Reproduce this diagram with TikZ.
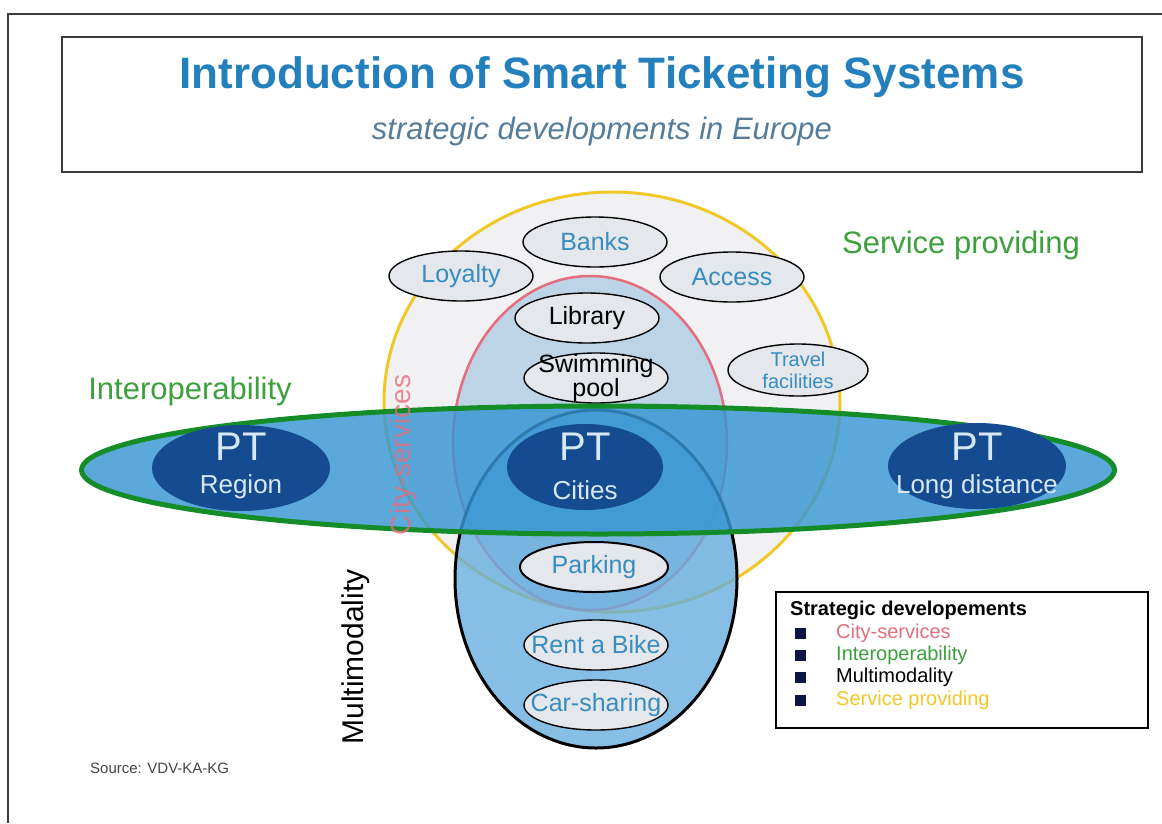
\documentclass[tikz,border=0pt]{standalone}
\usepackage{fontspec}
\setmainfont{Liberation Sans}
\usetikzlibrary{shapes.geometric}
\definecolor{titleblue}{RGB}{35,128,189}
\definecolor{subgray}{RGB}{85,125,155}
\definecolor{framegray}{RGB}{60,60,60}
\definecolor{svcyellow}{RGB}{240,200,40}
\definecolor{svcfill}{RGB}{241,241,243}
\definecolor{cityred}{RGB}{228,110,125}
\definecolor{cityfill}{RGB}{188,212,230}
\definecolor{multifill}{RGB}{100,172,222}
\definecolor{interopgreen}{RGB}{20,140,40}
\definecolor{interopfill}{RGB}{55,150,212}
\definecolor{labelgreen}{RGB}{60,160,60}
\definecolor{ptdark}{RGB}{20,75,145}
\definecolor{ptlight}{RGB}{215,232,245}
\definecolor{smallfill}{RGB}{228,231,235}
\definecolor{lblue}{RGB}{55,140,192}
\definecolor{legnavy}{RGB}{15,20,70}
\definecolor{srcgray}{RGB}{70,70,70}
\newcommand\fsz[1]{\fontsize{#1}{#1}\selectfont}
\begin{document}
\begin{tikzpicture}[x=1pt,y=-1pt,
  smallell/.style={ellipse, draw=black, line width=1.4pt, fill=smallfill, inner sep=0pt, minimum width=144pt, minimum height=50pt},
  smalltxt/.style={font=\fsz{25}, text=lblue, inner sep=0pt},
  darktxt/.style={font=\fsz{25}, text=black, inner sep=0pt},
  ptell/.style={ellipse, fill=ptdark, inner sep=0pt, minimum width=178pt, minimum height=86pt},
  ptbig/.style={font=\fsz{40}, text=ptlight, inner sep=0pt},
  ptsmall/.style={font=\fsz{26}, text=ptlight, inner sep=0pt},
  bigtxt/.style={font=\fsz{31}, inner sep=0pt},
  legtxt/.style={font=\fsz{20}, anchor=west, inner sep=0pt},
  legsq/.style={fill=legnavy, minimum size=11pt, inner sep=0pt}
]
\useasboundingbox (0,0) rectangle (1162,823);
\fill[white] (0,0) rectangle (1162,823);
% frame
\coordinate (f1) at (8,823);
\coordinate (f2) at (8,14);
\coordinate (f3) at (1162,14);
\draw[framegray, line width=2pt] (f1) -- (f2) -- (f3);
% title box
\node[draw=framegray, line width=1.6pt, minimum width=1080pt, minimum height=135pt, inner sep=0pt] (titlebox) at (602,104.5) {};
\node[font=\fsz{44}\bfseries, text=titleblue, inner sep=0pt] (title) at (602,77) {Introduction of Smart Ticketing Systems};
\node[font=\fsz{31}\itshape, text=subgray, inner sep=0pt] (subtitle) at (602,131) {strategic developments in Europe};
% service providing
\node[ellipse, draw=svcyellow, line width=3pt, fill=svcfill, inner sep=0pt, minimum width=456pt, minimum height=420pt] (svc) at (612,402) {};
% city services
\node[ellipse, draw=cityred, line width=2.5pt, fill=cityfill, inner sep=0pt, minimum width=274pt, minimum height=334pt] (city) at (590,443) {};
% small services
\node[smallell, label={[smalltxt]center:Banks}] (banks) at (595,242) {};
\node[smallell, label={[smalltxt]center:Loyalty}] (loyalty) at (461,276) {};
\node[smallell, label={[smalltxt]center:Access}] (access) at (732,277) {};
\node[smallell, label={[darktxt]center:Library}] (library) at (587,318) {};
\node[smallell, label={[darktxt, align=center, font=\fontsize{25}{23}\selectfont]center:Swimming\\pool}] (swim) at (596,378) {};
\node[smallell, minimum width=140pt, minimum height=52pt, label={[smalltxt, align=center, font=\fontsize{20}{22}\selectfont]center:Travel\\facilities}] (travel) at (798,370) {};
% multimodality
\node[ellipse, draw=black, line width=3pt, fill=multifill, fill opacity=0.78, inner sep=0pt, minimum width=282pt, minimum height=338pt] (multi) at (596,579) {};
\node[smallell, line width=2pt, minimum width=148pt, label={[smalltxt]center:Parking}] (parking) at (594,567) {};
\node[smallell, label={[smalltxt]center:Rent a Bike}] (bike) at (596,645) {};
\node[smallell, label={[smalltxt]center:Car-sharing}] (car) at (596,705) {};
% interoperability
\node[ellipse, draw=interopgreen, line width=5pt, fill=interopfill, fill opacity=0.82, inner sep=0pt, minimum width=1033pt, minimum height=128pt] (interop) at (598,470) {};
\node[rotate=90, font=\fsz{28}, text=cityred, text opacity=0.8, inner sep=0pt] (citylbl) at (403,455) {City-services};
% PT nodes
\node[ptell] (ptreg) at (241,468) {};
\node[ptbig] (ptregA) at (241,447) {PT};
\node[ptsmall] (ptregB) at (241,487) {Region};
\node[ptell, minimum width=156pt] (ptcity) at (585,467) {};
\node[ptbig] (ptcityA) at (585,447) {PT};
\node[ptsmall] (ptcityB) at (585,490) {Cities};
\node[ptell] (ptlong) at (977,466) {};
\node[ptbig] (ptlongA) at (977,447) {PT};
\node[ptsmall] (ptlongB) at (977,487) {Long distance};
% labels
\node[bigtxt, text=labelgreen] (svclbl) at (961,245) {Service providing};
\node[bigtxt, text=labelgreen] (interoplbl) at (190,391) {Interoperability};
\node[rotate=90, font=\fsz{30}, text=black, inner sep=0pt] (multilbl) at (356,657) {Multimodality};
% legend
\node[draw=black, line width=1.4pt, fill=white, minimum width=372pt, minimum height=136pt, inner sep=0pt] (legend) at (962,660) {};
\node[legtxt, font=\fsz{20}\bfseries] (legtitle) at (790,610) {Strategic developements};
\node[legsq] (sq1) at (800,633) {};
\node[legsq] (sq2) at (800,655) {};
\node[legsq] (sq3) at (800,677) {};
\node[legsq] (sq4) at (800,700) {};
\node[legtxt, text=cityred] (leg1) at (836,633) {City-services};
\node[legtxt, text=labelgreen] (leg2) at (836,655) {Interoperability};
\node[legtxt, text=black] (leg3) at (836,677) {Multimodality};
\node[legtxt, text=svcyellow] (leg4) at (836,700) {Service providing};
% source
\node[font=\fsz{15}, text=srcgray, anchor=west, inner sep=0pt] (source) at (90,768) {Source: VDV-KA-KG};
\end{tikzpicture}
\end{document}
